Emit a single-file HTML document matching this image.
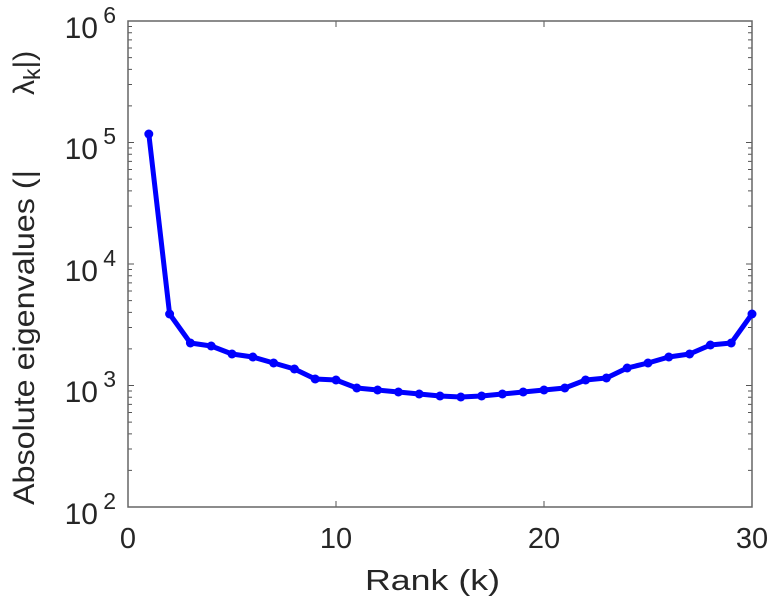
<!DOCTYPE html>
<html><head><style>body{margin:0;background:#fff}svg{display:block}</style></head><body>
<svg width="772" height="600" xmlns="http://www.w3.org/2000/svg" font-family="Liberation Sans, sans-serif" fill="#262626">
<rect width="772" height="600" fill="#fff"/>
<g id="ticks" stroke="#555" stroke-width="1"></g>
<path d="M128,21 H752 V507 H128 Z" fill="none" stroke="#666" stroke-width="1.5"/>
<polyline id="ln" fill="none" stroke="#0000ff" stroke-width="5" stroke-linejoin="round"/>
<g id="mk" fill="#0000ff"></g>
<g font-size="29" text-anchor="middle">
<text x="128" y="548">0</text><text x="336" y="548">10</text><text x="544" y="548">20</text><text x="752" y="548">30</text>
</g>
<g font-size="30" text-anchor="end">
<text x="98" y="38">10</text><text x="116" y="23" font-size="23">6</text>
<text x="98" y="159">10</text><text x="116" y="144" font-size="23">5</text>
<text x="98" y="281">10</text><text x="116" y="266" font-size="23">4</text>
<text x="98" y="402">10</text><text x="116" y="387" font-size="23">3</text>
<text x="98" y="524">10</text><text x="116" y="509" font-size="23">2</text>
</g>
<text x="365" y="590" font-size="29" textLength="135" lengthAdjust="spacingAndGlyphs">Rank (k)</text>
<g transform="translate(34,0) rotate(-90)" font-size="30">
<text x="-505" y="0" textLength="335" lengthAdjust="spacingAndGlyphs">Absolute eigenvalues (|</text>
<text x="-95" y="0">λ<tspan font-size="23" dy="6">k</tspan><tspan dy="-6">|)</tspan></text>
</g>
<script>
var ys=[134,314,343,346,354,357,363,369,379,380,388,390,392,394,396,397,396,394,392,390,388,380,378,368,363,357,354,345,343,314];
var pts=[],mk=document.getElementById('mk'),ns='http://www.w3.org/2000/svg';
ys.forEach(function(y,i){var x=128+(i+1)*20.8;pts.push(x+','+y);var c=document.createElementNS(ns,'circle');c.setAttribute('cx',x);c.setAttribute('cy',y);c.setAttribute('r',4.5);mk.appendChild(c);});
document.getElementById('ln').setAttribute('points',pts.join(' '));
var t=document.getElementById('ticks'),d='';
for(var dec=0;dec<4;dec++){for(var m=1;m<=10;m++){var y=507-dec*121.5-Math.log10(m)*121.5;var L=(m==1||m==10)?6:4;d+='M128,'+y+'h'+L+'M752,'+y+'h-'+L;}}
for(var k=0;k<=30;k+=10){var x=128+k*20.8;d+='M'+x+',507v-6M'+x+',21v6';}
var p=document.createElementNS(ns,'path');p.setAttribute('d',d);t.appendChild(p);
</script>
</svg>
</body></html>
